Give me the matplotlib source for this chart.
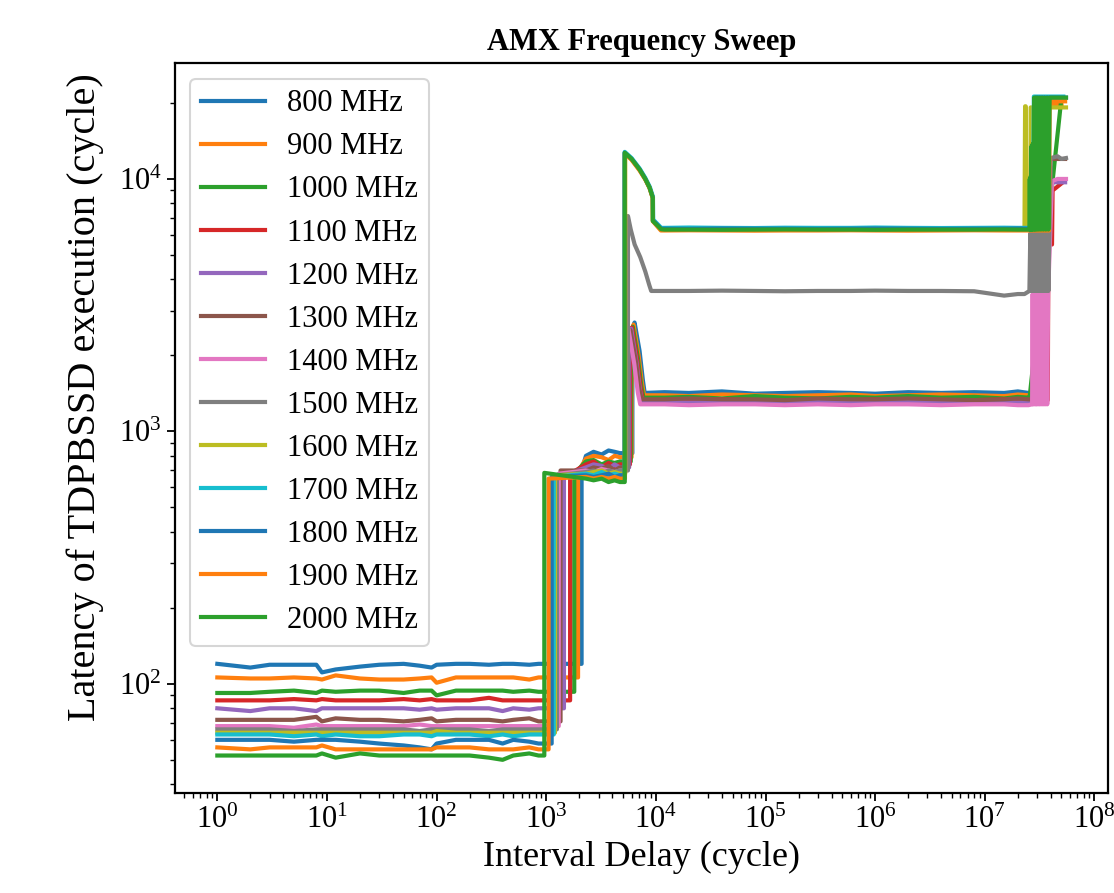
import matplotlib
matplotlib.use("Agg")
import matplotlib.pyplot as plt

plt.rcParams['font.family'] = ['Liberation Serif', 'DejaVu Serif']
plt.rcParams['mathtext.fontset'] = 'stix'

freqs = [800, 900, 1000, 1100, 1200, 1300, 1400, 1500, 1600, 1700, 1800, 1900, 2000]
labels = ['%d MHz' % f for f in freqs]

# flat region before the first jump
low_x = [1, 2, 3, 5, 8, 9, 12, 20, 30, 50, 70, 90, 100, 150, 200, 300, 400, 500, 700, 850]
low_y = [
    [120, 116, 119, 119, 119, 111, 114, 117, 119, 120, 118, 116, 119, 120, 120, 119, 120, 120, 119, 120],
    [106, 105, 105, 106, 105, 104, 108, 105, 104, 104, 105, 106, 101, 106, 106, 106, 106, 106, 104, 106],
    [92, 92, 93, 94, 92, 94, 93, 94, 94, 92, 94, 94, 90, 94, 94, 94, 94, 93, 94, 93],
    [86, 86, 86, 87, 86, 87, 86, 86, 86, 87, 86, 87, 86, 86, 86, 88, 86, 86, 86, 86],
    [80, 78, 80, 80, 78, 80, 80, 80, 80, 80, 79, 80, 79, 80, 80, 80, 78, 80, 79, 80],
    [72, 72, 72, 72, 74, 71, 73, 72, 72, 71, 72, 73, 71, 72, 72, 72, 71, 72, 73, 71],
    [68, 68, 68, 67, 69, 68, 68, 68, 68, 68, 69, 68, 68, 68, 68, 68, 68, 68, 68, 68],
    [66, 66, 66, 65, 66, 66, 66, 66, 66, 66, 65, 66, 66, 66, 66, 65, 66, 66, 66, 66],
    [64, 64, 64, 64, 64, 64, 64, 64, 64, 64, 64, 64, 65, 64, 64, 64, 64, 64, 64, 64],
    [63, 63, 63, 62, 63, 62, 63, 62, 62, 63, 63, 62, 63, 63, 63, 62, 63, 62, 63, 63],
    [60, 60, 60, 59, 60, 60, 60, 59, 58, 57, 56, 55, 58, 60, 60, 60, 58, 60, 59, 58],
    [56, 55, 56, 56, 56, 57, 55, 55, 55, 55, 55, 55, 56, 56, 56, 55, 55, 55, 56, 55],
    [52, 52, 52, 52, 52, 53, 51, 53, 52, 52, 52, 52, 52, 52, 52, 51, 50, 52, 53, 52],
]

# first jump (~1e3) and the plateau after it
step1_x = [2100, 1950, 1800, 1650, 1450, 1350, 1300, 1250, 1200, 1170, 1120, 1050, 960]
mid_first = [700, 690, 680, 680, 670, 700, 680, 670, 670, 660, 660, 650, 685]
mid_x = [2300, 2700, 3200, 3700, 4200, 4700]
mid_y = [
    [800, 830, 810, 840, 830, 820],
    [780, 800, 790, 770, 800, 790],
    [760, 770, 740, 760, 750, 760],
    [740, 760, 720, 750, 730, 740],
    [720, 740, 730, 710, 740, 720],
    [700, 720, 710, 730, 700, 720],
    [700, 690, 710, 700, 690, 700],
    [690, 700, 680, 700, 690, 700],
    [680, 690, 700, 680, 690, 680],
    [680, 670, 690, 670, 680, 670],
    [670, 660, 670, 680, 660, 670],
    [660, 650, 660, 650, 660, 650],
    [650, 640, 650, 630, 640, 630],
]

# second jump (~5e3) with its overshoot
rise_x = [
    [6100, 6100, 6390, 7100, 7600, 7900],
    [6000, 6000, 6250, 6950, 7450, 7800],
    [5900, 5900, 6150, 6850, 7350, 7700],
    [5800, 5800, 6050, 6750, 7250, 7600],
    [5700, 5700, 5950, 6650, 7150, 7500],
    [5600, 5600, 5850, 6550, 7050, 7400],
    [5400, 5400, 5600, 6350, 6850, 7200],
    [5560, 5560, 5900, 6400, 7200, 8000, 8700, 9060],
    [5250, 5250, 6000, 7100, 8000, 8750, 9350, 9400, 11100],
    [5200, 5200, 6000, 7100, 8000, 8800, 9400, 9450, 11200],
    [5180, 5180, 6000, 7100, 8000, 8750, 9370, 9400, 11150],
    [5220, 5220, 6000, 7100, 8000, 8750, 9350, 9380, 11100],
    [5200, 5200, 6000, 7100, 8000, 8750, 9370, 9370, 11170],
]
rise_y = [
    [820, 2550, 2700, 2080, 1600, 1420],
    [790, 2500, 2650, 2000, 1560, 1390],
    [760, 2450, 2600, 1950, 1520, 1360],
    [740, 2400, 2580, 1920, 1490, 1330],
    [720, 2380, 2550, 1880, 1460, 1310],
    [720, 2350, 2520, 1900, 1480, 1340],
    [700, 2400, 2560, 1850, 1420, 1280],
    [700, 7130, 6300, 5500, 4900, 4300, 3800, 3600],
    [680, 12600, 12000, 10900, 10000, 9240, 8430, 6820, 6300],
    [670, 12800, 12100, 11000, 10100, 9300, 8500, 6900, 6400],
    [670, 12700, 12000, 10900, 10000, 9240, 8430, 6850, 6350],
    [650, 12600, 11900, 10800, 9950, 9200, 8400, 6800, 6250],
    [630, 12700, 12000, 10900, 10000, 9240, 8430, 6820, 6320],
]

# long plateau
plat_x = [1.2e4, 2e4, 4e4, 8e4, 1.5e5, 3e5, 6e5, 1e6, 2e6, 4e6, 8e6, 1.5e7, 2e7]
plat_y = [
    [1430, 1420, 1440, 1410, 1420, 1430, 1420, 1410, 1430, 1420, 1430, 1420, 1440],
    [1390, 1380, 1400, 1390, 1380, 1390, 1400, 1380, 1390, 1400, 1390, 1380, 1400],
    [1360, 1370, 1350, 1380, 1360, 1350, 1370, 1360, 1380, 1360, 1370, 1350, 1370],
    [1330, 1320, 1340, 1330, 1330, 1320, 1330, 1340, 1320, 1330, 1330, 1340, 1330],
    [1310, 1300, 1310, 1310, 1300, 1310, 1300, 1310, 1310, 1300, 1310, 1310, 1300],
    [1340, 1350, 1340, 1340, 1330, 1350, 1340, 1340, 1350, 1340, 1330, 1340, 1350],
    [1280, 1270, 1280, 1280, 1270, 1280, 1270, 1280, 1280, 1270, 1280, 1280, 1270],
    [3600, 3600, 3610, 3600, 3590, 3600, 3600, 3610, 3600, 3600, 3590, 3450, 3500],
    [6300, 6310, 6300, 6290, 6300, 6310, 6300, 6300, 6290, 6300, 6310, 6300, 6300],
    [6400, 6420, 6400, 6390, 6410, 6400, 6400, 6420, 6400, 6390, 6400, 6410, 6400],
    [6350, 6340, 6360, 6350, 6350, 6340, 6350, 6360, 6350, 6340, 6350, 6350, 6360],
    [6250, 6260, 6250, 6240, 6250, 6250, 6260, 6250, 6240, 6250, 6260, 6250, 6250],
    [6300, 6300, 6290, 6300, 6310, 6300, 6300, 6290, 6300, 6300, 6300, 6310, 6300],
]

# final rise near 3e7
end_x = [
    [2.5e7, 3.55e7, 3.6e7, 3.65e7, 5.3e7],
    [2.5e7, 3.5e7, 3.6e7, 5.0e7],
    [2.53e7, 2.56e7, 5.0e7],
    [2.5e7, 3.75e7, 3.8e7, 4.1e7, 4.15e7, 5.0e7],
    [2.5e7, 3.6e7, 3.7e7, 5.4e7],
    [2.5e7, 3.6e7, 3.7e7, 5.4e7],
    [2.5e7, 2.7e7, 2.73e7, 2.76e7, 2.8e7, 2.84e7, 2.88e7, 2.92e7, 2.96e7, 3.0e7, 3.05e7,
     3.1e7, 3.15e7, 3.2e7, 3.26e7, 3.32e7, 3.38e7, 3.44e7, 3.5e7, 3.57e7, 3.64e7, 3.71e7,
     3.78e7, 4.1e7, 4.6e7, 5.5e7],
    [2.3e7, 2.55e7, 2.6e7, 2.64e7, 2.68e7, 2.72e7, 2.76e7, 2.8e7, 2.85e7, 2.9e7, 2.95e7,
     3.0e7, 3.06e7, 3.12e7, 3.18e7, 3.24e7, 3.3e7, 3.37e7, 3.44e7, 3.51e7, 3.58e7, 3.65e7,
     3.72e7, 3.8e7, 3.88e7, 4.0e7, 4.6e7, 5.0e7, 5.5e7],
    [2.3e7, 2.33e7, 2.36e7, 2.4e7, 2.6e7, 2.62e7, 5.5e7],
    [2.3e7, 2.75e7, 2.8e7, 5.2e7],
    [2.3e7, 2.85e7, 2.9e7, 5.5e7],
    [2.3e7, 3.85e7, 3.9e7, 4.2e7, 5.4e7],
    [2.3e7, 2.55e7, 2.57e7, 2.59e7, 2.61e7, 2.64e7, 2.67e7, 2.7e7, 2.74e7, 2.78e7, 2.82e7,
     2.87e7, 2.92e7, 2.97e7, 3.03e7, 3.1e7, 3.17e7, 3.25e7, 3.33e7, 3.42e7, 3.5e7, 3.6e7,
     3.7e7, 3.8e7, 3.9e7, 5.5e7],
]
end_y = [
    [1420, 1420, 12900, 20800, 20800],
    [1390, 1390, 19500, 19800],
    [1360, 1360, 21000],
    [1330, 1330, 5600, 5500, 9000, 9600],
    [1310, 1310, 9700, 9700],
    [1340, 1340, 12000, 12000],
    [1270, 1280, 3500, 1280, 3500, 1280, 3500, 1280, 3500, 1280, 3500,
     1280, 3500, 1280, 3500, 1280, 3500, 1280, 3500, 1280, 3500, 1280,
     3500, 9800, 10000, 10000],
    [3500, 3600, 6100, 3600, 6100, 3600, 6100, 3600, 6100, 3600, 6100,
     3600, 6100, 3600, 6100, 3600, 6100, 3600, 6100, 3600, 6100, 3600,
     6100, 3600, 6100, 12100, 12300, 12000, 12100],
    [6300, 19400, 19400, 6300, 6300, 19200, 19200],
    [6400, 6400, 21200, 21200],
    [6350, 6350, 21000, 21000],
    [6250, 6250, 20200, 20300, 20300],
    [6300, 6300, 10000, 6300, 10200, 6300, 13500, 6300, 13800, 6300, 21000,
     6300, 21000, 6300, 21000, 6300, 21000, 6300, 21000, 6300, 21000, 6300,
     21000, 6300, 21000, 21000],
]

fig = plt.figure(figsize=(11.14, 8.93), dpi=100)
ax = fig.add_axes([0.157, 0.112, 0.838, 0.817])

for i in range(len(freqs)):
    xs = low_x + [step1_x[i], step1_x[i]] + mid_x + rise_x[i] + plat_x + end_x[i]
    ys = low_y[i] + [low_y[i][-1], mid_first[i]] + mid_y[i] + rise_y[i] + plat_y[i] + end_y[i]
    ax.plot(xs, ys, color='C%d' % (i % 10), lw=3.0, label=labels[i])

ax.set_xscale('log')
ax.set_yscale('log')
ax.set_title('AMX Frequency Sweep', fontsize=22, fontweight='bold', pad=10)
ax.set_xlabel('Interval Delay (cycle)', fontsize=26, labelpad=4)
ax.set_ylabel('Latency of TDPBSSD execution (cycle)', fontsize=29)
ax.yaxis.set_label_coords(-0.076, 0.542)
ax.tick_params(labelsize=22, width=1.3, length=6)
ax.tick_params(which='minor', width=1.0, length=3.5)
for s in ax.spines.values():
    s.set_linewidth(1.6)

leg = ax.legend(loc='upper left', fontsize=22, handlelength=2.1, handletextpad=0.72,
                labelspacing=0.46, borderaxespad=0.5, borderpad=0.35)
leg.get_frame().set_linewidth(1.5)

fig.savefig('out.png', dpi=100)
